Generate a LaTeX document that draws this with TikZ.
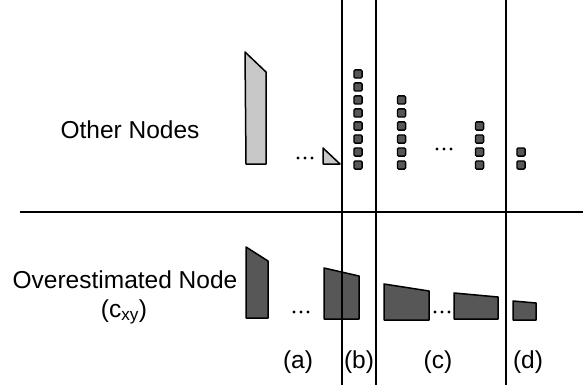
\documentclass[tikz,border=0pt]{standalone}
\usepackage{fontspec}
\setmainfont{Liberation Sans}
\definecolor{lightfill}{HTML}{C8C8C8}
\definecolor{darkfill}{HTML}{575757}
\begin{document}
\begin{tikzpicture}[x=1pt,y=-1pt,
  rule/.style={line width=1.3pt,black},
  lightshape/.style={draw=black,line width=1.5pt,fill=lightfill,line join=round},
  darkshape/.style={draw=black,line width=1.5pt,fill=darkfill,line join=round},
  sq/.style={draw=black,line width=1.3pt,fill=darkfill,rounded corners=1.2pt,minimum size=8.2pt,inner sep=0pt},
  lbl/.style={font=\fontsize{24.5}{28}\selectfont,anchor=base,inner sep=0pt},
  dot/.style={fill=black}]
\useasboundingbox (0,0) rectangle (583,385);
% rules
\coordinate (hL) at (20,212);
\coordinate (hR) at (583,212);
\draw[rule] (hL) -- (hR);
\coordinate (v1t) at (342,0); \coordinate (v1b) at (342,385);
\coordinate (v2t) at (376,0); \coordinate (v2b) at (376,385);
\coordinate (v3t) at (506,0); \coordinate (v3b) at (506,385);
\draw[rule] (v1t) -- (v1b);
\draw[rule] (v2t) -- (v2b);
\draw[rule] (v3t) -- (v3b);
% top row shapes
\draw[lightshape] (245,52) -- (266,72) -- (266,164) -- (246,164) -- cycle;
\draw[lightshape] (323,148) -- (340,164) -- (323,164) -- cycle;
\foreach \x in {298,305,312} \fill[dot] (\x,158) circle (1.7);
% squares (b)
\foreach \i in {0,...,7} \node[sq] (b\i) at (358,74+13*\i) {};
% squares (c)
\foreach \i in {0,...,5} \node[sq] (ca\i) at (401.5,100+13*\i) {};
\foreach \i in {0,...,3} \node[sq] (cb\i) at (479.5,126+13*\i) {};
\foreach \x in {437,444,451} \fill[dot] (\x,149) circle (1.7);
% squares (d)
\foreach \i in {0,1} \node[sq] (d\i) at (521,152+13*\i) {};
% bottom row shapes
\draw[darkshape] (246,247) -- (268,261) -- (268,318) -- (246,318) -- cycle;
\foreach \x in {294,301,308} \fill[dot] (\x,312) circle (1.7);
\draw[darkshape] (324,268) -- (359,276) -- (359,319) -- (324,319) -- cycle;
\draw[rule] (342,268) -- (342,319);
\draw[darkshape] (384,284) -- (429,291) -- (429,320) -- (384,320) -- cycle;
\foreach \x in {435,442,449} \fill[dot] (\x,312) circle (1.7);
\draw[darkshape] (454,293) -- (498,297) -- (498,319) -- (454,319) -- cycle;
\draw[darkshape] (513,301) -- (536,303) -- (536,320) -- (513,320) -- cycle;
% labels
\node[lbl] (other) at (130,139) {Other Nodes};
\node[lbl] (over) at (125,288) {Overestimated Node};
\node[lbl] (cxy) at (124,317) {(c\textsubscript{xy})};
\node[lbl] (la) at (298,368) {(a)};
\node[lbl] (lb) at (359,368) {(b)};
\node[lbl] (lc) at (438,368) {(c)};
\node[lbl] (ld) at (528,368) {(d)};
\end{tikzpicture}
\end{document}
